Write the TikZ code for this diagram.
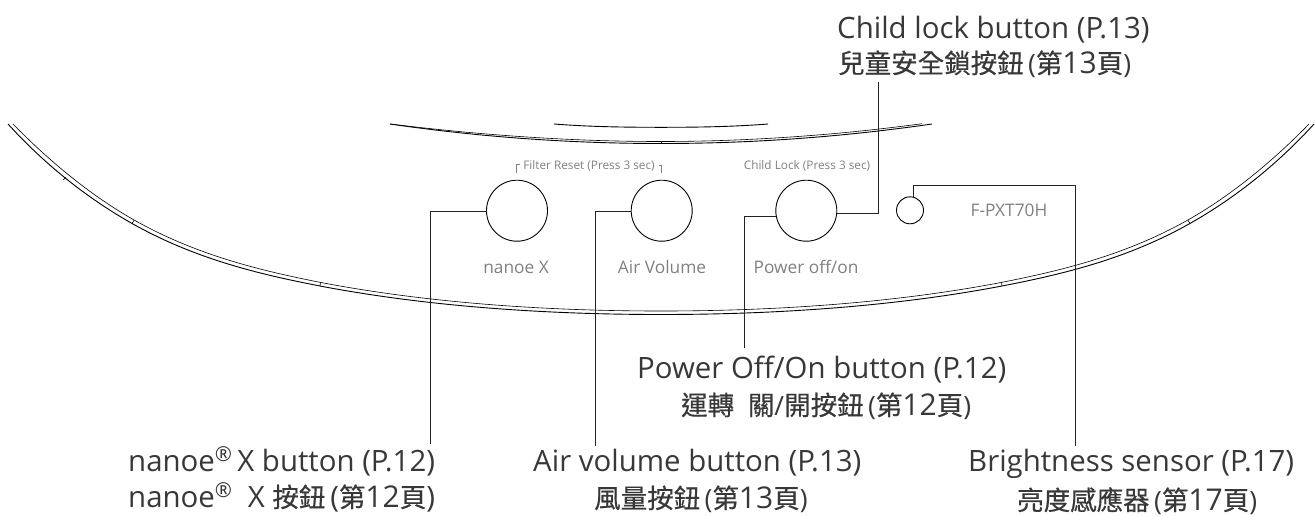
\documentclass[tikz,border=0pt]{standalone}
\usepackage{fontspec}
\setmainfont{Open Sans}
\newfontfamily\cjk[FakeBold=0.5]{Noto Sans CJK TC}
\newcommand{\zh}[1]{{\fontsize{26.5}{28}\selectfont\cjk #1}}
\newcommand{\zn}[1]{{\fontsize{30}{30}\selectfont #1}}
\definecolor{inktext}{HTML}{383838}
\definecolor{inkgray}{HTML}{808080}
\definecolor{inkline}{HTML}{222222}
\tikzset{
  mainlabel/.style={anchor=base west,inner sep=0,text=inktext,font=\fontsize{29.4}{30}\selectfont},
  sublabel/.style={anchor=base west,inner sep=0,text=inktext,font=\fontsize{26.5}{28}\selectfont},
  panellabel/.style={anchor=center,inner sep=0,text=inkgray,font=\fontsize{17.3}{18}\selectfont},
  smalllabel/.style={anchor=center,inner sep=0,text=inkgray,font=\fontsize{11.8}{13}\selectfont},
  btn/.style={circle,draw=black,line width=0.9pt,inner sep=0,outer sep=0,minimum size=61pt},
  lamp/.style={circle,draw=black,line width=0.9pt,inner sep=0,outer sep=0,minimum size=27pt},
  leader/.style={draw=inkline,line width=0.9pt},
  rim/.style={draw=black,line width=0.9pt},
  rimthin/.style={draw=black,line width=0.6pt}
}
\begin{document}
\begin{tikzpicture}[x=1pt,y=-1pt]
\useasboundingbox (0,0) rectangle (1315,515);
%
% body of the unit
\draw [rim] (8,124) .. controls (48,168) and (92,201) .. (133,224) .. controls (195,258.7) and (258,274) .. (320,286) .. controls (430,307) and (550,314.5) .. (661,314.5) .. controls (772,314.5) and (892,307) .. (1002,286) .. controls (1064,274) and (1127,258.7) .. (1189,224) .. controls (1230,201) and (1274,168) .. (1314,124);
\draw [rimthin] (13,124) .. controls (52,164) and (94,197.5) .. (135,220.5) .. controls (197,255.2) and (260,270.5) .. (321,282.5) .. controls (431,303.5) and (550,311) .. (661,311) .. controls (772,311) and (891,303.5) .. (1001,282.5) .. controls (1062,270.5) and (1125,255.2) .. (1187,220.5) .. controls (1228,197.5) and (1270,164) .. (1309,124);
\draw [rimthin] (66,177.3) -- (63,180);
\draw [rimthin] (134,220.3) -- (132,223.5);
\draw [rimthin] (320.5,282.4) -- (320,286);
\draw [rimthin] (1001.5,282.4) -- (1002,286);
\draw [rimthin] (1188,220.3) -- (1190,223.5);
%
% panel top
\draw [rim] (390,124) .. controls (480,137) and (570,143.5) .. (661,143.5) .. controls (752,143.5) and (842,137) .. (932,124);
\draw [rimthin] (390,124) .. controls (480,135) and (570,141.5) .. (661,141.5) .. controls (752,141.5) and (842,134.5) .. (922,123.7);
\draw [rimthin] (661,141.5) -- (661,143.5);
\draw [rim] (554,124) .. controls (590,126.8) and (625,127.3) .. (661,127.3) .. controls (697,127.3) and (732,126.8) .. (768,124);
%
\node [btn] (nanoe) at (517,210.7) {};
\node [btn] (air) at (661.7,210.7) {};
\node [btn] (power) at (806.3,210.7) {};
\node [lamp] (sensor) at (910,210.3) {};
%
\node [smalllabel] (reset) at (589,165.5) {Filter Reset (Press 3 sec)};
\node [smalllabel] (lock) at (807,165.5) {Child Lock (Press 3 sec)};
\draw [draw=inkgray,line width=0.8pt] (516.5,173) -- (516.5,164.5) -- (519.5,164.5);
\draw [draw=inkgray,line width=0.8pt] (661.5,173) -- (661.5,165) -- (658.5,165);
%
\node [panellabel] (n1) at (516,267) {nanoe X};
\node [panellabel] (n2) at (662,267) {Air Volume};
\node [panellabel] (n3) at (806,267) {Power off/on};
\node [panellabel] (n4) at (1009,210) {F-PXT70H};
%
\node [mainlabel] (t1) at (837,38) {Child lock button (P.13)};
\node [sublabel] (s1) at (838,73) {\zh{兒童安全鎖按鈕}\,(\zh{第}\zn{13}\zh{頁})};
\node [mainlabel] (t2) at (637,378) {Power Off/On button (P.12)};
\node [sublabel] (s2) at (681,415) {\zh{運轉}\ \ \zh{關}/\zh{開按鈕}\,(\zh{第}\zn{12}\zh{頁})};
\node [mainlabel] (t3) at (128,471) {nanoe\textsuperscript{®}\,X button (P.12)};
\node [mainlabel] (s3) at (128,507) {nanoe\textsuperscript{®}\ \ X \zh{按鈕}\,(\zh{第}\zn{12}\zh{頁})};
\node [mainlabel] (t4) at (533,471) {Air volume button (P.13)};
\node [sublabel] (s4) at (594,508) {\zh{風量按鈕}\,(\zh{第}\zn{13}\zh{頁})};
\node [mainlabel] (t5) at (968,471) {Brightness sensor (P.17)};
\node [sublabel] (s5) at (1017,510) {\zh{亮度感應器}\,(\zh{第}\zn{17}\zh{頁})};
%
\coordinate (v1) at (430.3,444);
\coordinate (v2) at (595.7,445.7);
\coordinate (v3) at (744,348);
\coordinate (v4) at (878.3,82);
\coordinate (v5) at (1075,445.7);
\coordinate (v6) at (1075,185.7);
%
\draw [leader] (v1) |- (nanoe.182);
\draw [leader] (v2) |- (air.182);
\draw [leader] (v3) |- (power.191);
\draw [leader] (v4) |- (power.-6);
\draw [leader] (sensor.76) |- (v6) -- (v5);
\end{tikzpicture}
\end{document}
